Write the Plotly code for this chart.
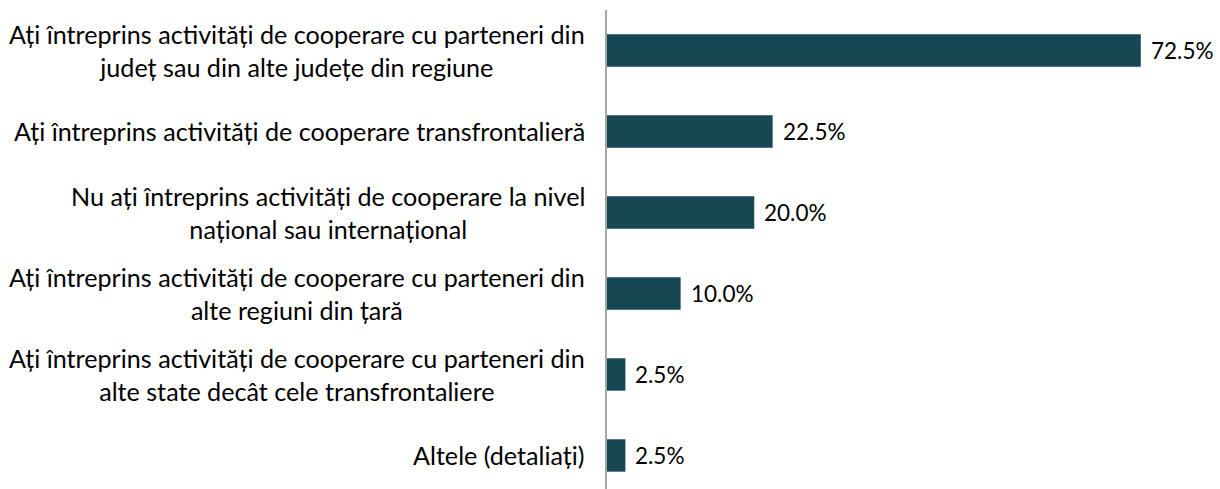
import plotly.graph_objects as go

# Survey answers (top to bottom) and share of respondents, in percent
categories = [
    "Ați întreprins activități de cooperare cu parteneri din<br>județ sau din alte județe din regiune",
    "Ați întreprins activități de cooperare transfrontalieră",
    "Nu ați întreprins activități de cooperare la nivel<br>național sau internațional",
    "Ați întreprins activități de cooperare cu parteneri din<br>alte regiuni din țară",
    "Ați întreprins activități de cooperare cu parteneri din<br>alte state decât cele transfrontaliere",
    "Altele (detaliați)",
]
values = [72.5, 22.5, 20.0, 10.0, 2.5, 2.5]
value_labels = [f"{v:.1f}%" for v in values]

FONT = "Lato"
BAR_COLOR = "#164752"
positions = list(range(len(categories)))

fig = go.Figure(
    go.Bar(
        x=values,
        y=positions,
        orientation="h",
        marker=dict(color=BAR_COLOR, line=dict(width=0)),
        width=0.4,
        hoverinfo="skip",
    )
)

annotations = []
# Category labels, block right-aligned next to the axis, lines centred
for pos, label in zip(positions, categories):
    annotations.append(dict(
        x=0, xref="paper", y=pos, yref="y",
        text=label, showarrow=False,
        xanchor="right", yanchor="middle", align="center",
        xshift=-20,
        font=dict(family=FONT, size=25.15, color="#000000"),
    ))
# Value labels just past the end of each bar
for pos, v, lab in zip(positions, values, value_labels):
    annotations.append(dict(
        x=v, xref="x", y=pos, yref="y",
        text=lab, showarrow=False,
        xanchor="left", yanchor="middle",
        xshift=8,
        font=dict(family=FONT, size=22.5, color="#000000"),
    ))

fig.update_layout(
    width=1220, height=489,
    margin=dict(l=607, r=24, t=10, b=0),
    paper_bgcolor="white", plot_bgcolor="white",
    showlegend=False,
    annotations=annotations,
    xaxis=dict(range=[0, 80], visible=False, fixedrange=True),
    yaxis=dict(
        range=[5.414, -0.5],
        showticklabels=False, ticks="",
        showgrid=False, zeroline=False,
        showline=True, linecolor="#a6a6a6", linewidth=2,
        fixedrange=True,
    ),
)

fig.write_html("out.html")
